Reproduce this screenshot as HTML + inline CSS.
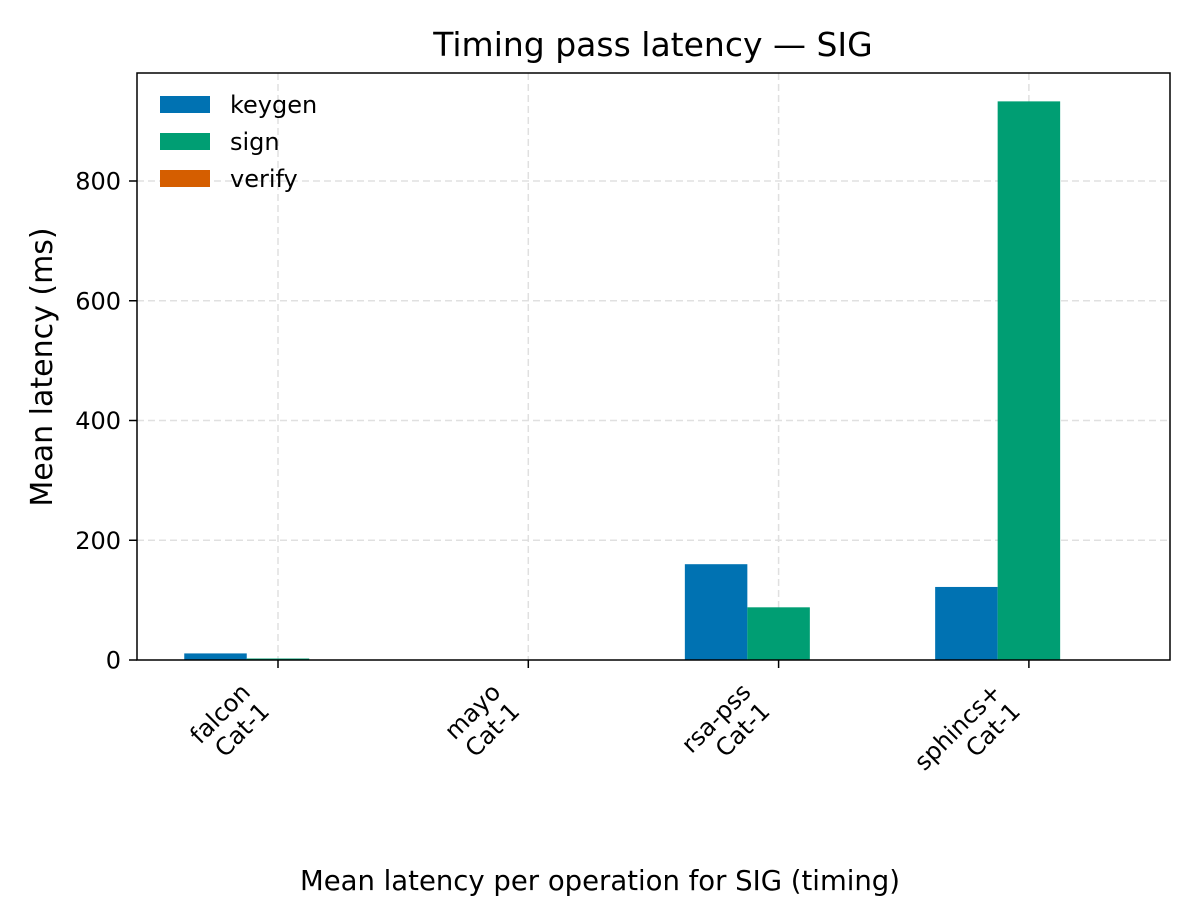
<!DOCTYPE html>
<html><head><meta charset="utf-8"><style>
body{margin:0;background:#fff;}
svg{display:block;font-family:"DejaVu Sans","Liberation Sans",sans-serif;}
</style></head><body>
<svg id="chart" width="1200" height="900" xmlns="http://www.w3.org/2000/svg">
<rect width="1200" height="900" fill="#fff"/>
<text x="653" y="56" font-size="33" text-anchor="middle" fill="#000">Timing pass latency — SIG</text>
<text x="600" y="890" font-size="27.5" text-anchor="middle" fill="#000">Mean latency per operation for SIG (timing)</text>
<text transform="translate(52,367) rotate(-90)" font-size="30" text-anchor="middle" fill="#000">Mean latency (ms)</text>
<g id="grid"></g>
<g id="bars"></g>
<g id="axes"></g>
<g id="legend"></g>
</svg>
<script>
const categories = ["falcon\nCat-1","mayo\nCat-1","rsa-pss\nCat-1","sphincs+\nCat-1"];
const seriesNames = ["keygen","sign","verify"];
const keygenValues = [11, 0.3, 160, 122];
const signValues = [2.5, 0.4, 88, 933];
const verifyValues = [0.3, 0.2, 0.5, 0.8];
const yTicks = [0,200,400,600,800];
const colors = ["#0072b2","#009e73","#d55e00"];

const NS="http://www.w3.org/2000/svg";
const L=137,R=1170,T=73,B=660;
const x0=278, step=250.3, bw=62.5;
function xPos(i){return x0+i*step;}
function yPos(v){return B-v*(B-181)/800;}
function mk(tag,attrs,parent){const e=document.createElementNS(NS,tag);for(const k in attrs)e.setAttribute(k,attrs[k]);parent.appendChild(e);return e;}
const grid=document.getElementById('grid'),bars=document.getElementById('bars'),axes=document.getElementById('axes'),leg=document.getElementById('legend');

yTicks.forEach(t=>{
  const y=yPos(t);
  if(t>0){const g=mk('line',{x1:L,x2:R,y1:y,y2:y,stroke:'#e0e0e0','stroke-width':1.5,'stroke-dasharray':'7,4'},grid);
  
  }
  const tk=mk('line',{x1:L-8,x2:L,y1:y,y2:y,stroke:'#000','stroke-width':1.5},axes);
  
  
  const tx=mk('text',{x:L-16,y:y+8.5,'font-size':24,'text-anchor':'end'},axes);
  tx.textContent=t;
  
  
});
categories.forEach((c,i)=>{
  const x=xPos(i);
  const g=mk('line',{x1:x,x2:x,y1:T,y2:B,stroke:'#e0e0e0','stroke-width':1.5,'stroke-dasharray':'7,4'},grid);
  
  
  const tk=mk('line',{x1:x,x2:x,y1:B,y2:B+8,stroke:'#000','stroke-width':1.5},axes);
  
  
  const parts=c.split('\n');
  const grp=mk('g',{},axes);
  const tx=mk('text',{'font-size':24,'text-anchor':'end',transform:'rotate(-45)'},grp);
  
  
  parts.forEach((p,j)=>{const ts=mk('tspan',{x:0,dy:j?27:0},tx);ts.textContent=p;});
  const bb=grp.getBoundingClientRect();
  grp.setAttribute('transform',`translate(${x-3-bb.right},${B+18-bb.top})`);
});
const series=[keygenValues,signValues,verifyValues];
series.forEach((vals,s)=>{
  vals.forEach((v,i)=>{
    const x=xPos(i)+(s-1)*bw-bw/2;
    const r=mk('rect',{x:x,y:yPos(v),width:bw,height:B-yPos(v),fill:colors[s]},bars);
    
    
  });
});
mk('rect',{x:L,y:T,width:R-L,height:B-T,fill:'none',stroke:'#000','stroke-width':1.5},axes);
seriesNames.forEach((n,s)=>{
  const y=105+s*37;
  const r=mk('rect',{x:160,y:y-9,width:50,height:17,fill:colors[s]},leg);
  
  
  const t=mk('text',{x:230,y:y+8,'font-size':24},leg);
  t.textContent=n;
  
  
});
</script>
</body></html>
